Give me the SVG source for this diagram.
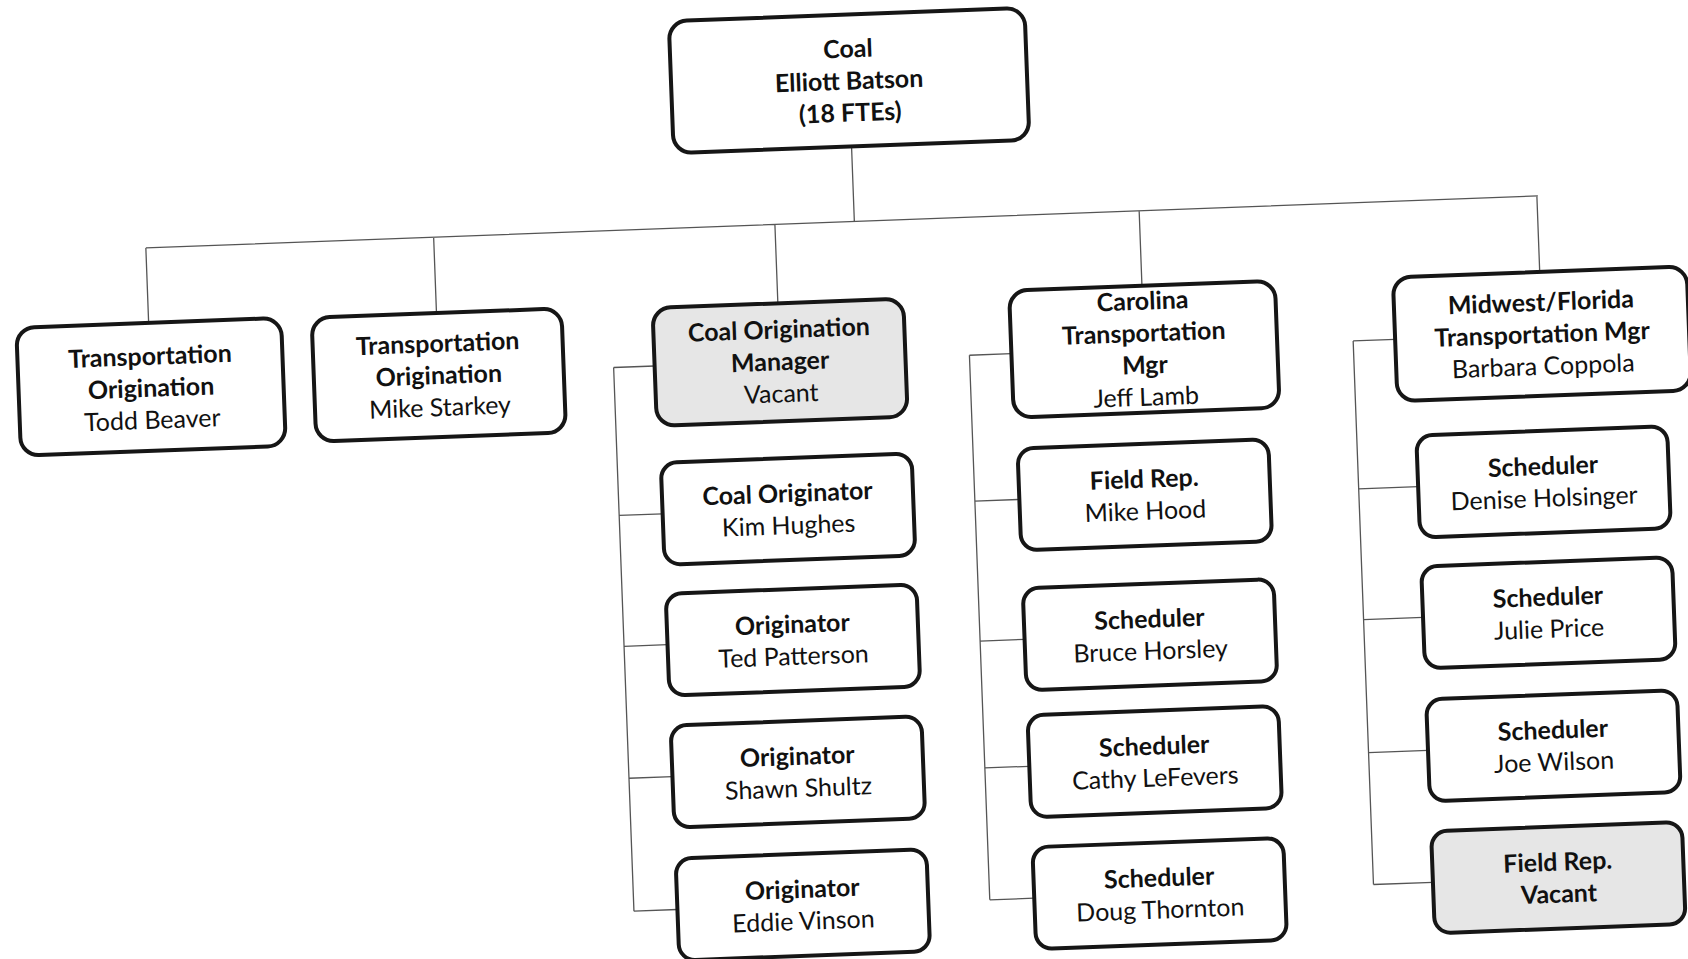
<svg xmlns="http://www.w3.org/2000/svg" width="1688" height="959" viewBox="0 0 1688 959">
<style>
.box{fill:#fff;stroke:#161616;stroke-width:4}
.vac{fill:#e6e6e6;stroke:#161616;stroke-width:4}
.t{font-family:Lato,"Liberation Sans",sans-serif;font-size:25px;text-anchor:middle;fill:#111}
.b{font-weight:bold}
.c{fill:none;stroke:#555;stroke-width:1.3}
</style>
<rect width="1688" height="959" fill="#fff"/>
<g transform="rotate(-2.14 844 480)">
<g id="connectors">
<path class="c" d="M864 146V222M155 222H1548M155 222V297M443 222V298M784.5 222V301M1149 222V297M1547 222V298"/>
<path class="c" d="M618 359V903M618 359H659M618 507H661.5M618 638H661.5M618 770H661.5M618 903H661.5"/>
<path class="c" d="M974 360V905M974 360H1016M974 506H1018.5M974 646H1018.5M974 773H1018.5M974 905H1018.5"/>
<path class="c" d="M1358 360V904M1358 360H1400M1358 508H1417.5M1358 639H1417.5M1358 772H1417.5M1358 904H1417.5"/>
</g>
<g id="n-coal"><rect class="box" x="686" y="15" width="356" height="132" rx="18"/>
<text class="t b" x="864" y="58">Coal</text><text class="t b" x="864" y="90">Elliott Batson</text><text class="t b" x="864" y="122">(18 FTEs)</text></g>
<g id="n-todd"><rect class="box" x="22.5" y="297" width="265" height="128" rx="18"/>
<text class="t b" x="155" y="339">Transportation</text><text class="t b" x="155" y="371">Origination</text><text class="t" x="155" y="403">Todd Beaver</text></g>
<g id="n-starkey"><rect class="box" x="318" y="298" width="250" height="124" rx="18"/>
<text class="t b" x="443" y="337">Transportation</text><text class="t b" x="443" y="369">Origination</text><text class="t" x="443" y="401">Mike Starkey</text></g>
<g id="n-mgr"><rect class="vac" x="659" y="301" width="251" height="118" rx="18"/>
<text class="t b" x="784.5" y="336">Coal Origination</text><text class="t b" x="784.5" y="368">Manager</text><text class="t" x="784.5" y="400">Vacant</text></g>
<g id="n-kim"><rect class="box" x="661.5" y="456" width="251" height="102" rx="16"/>
<text class="t b" x="787" y="500">Coal Originator</text><text class="t" x="787" y="532">Kim Hughes</text></g>
<g id="n-ted"><rect class="box" x="661.5" y="587" width="251" height="102" rx="16"/>
<text class="t b" x="787" y="631">Originator</text><text class="t" x="787" y="663">Ted Patterson</text></g>
<g id="n-shawn"><rect class="box" x="661.5" y="719" width="251" height="102" rx="16"/>
<text class="t b" x="787" y="763">Originator</text><text class="t" x="787" y="795">Shawn Shultz</text></g>
<g id="n-eddie"><rect class="box" x="661.5" y="852" width="251" height="102" rx="16"/>
<text class="t b" x="787" y="896">Originator</text><text class="t" x="787" y="928">Eddie Vinson</text></g>
<g id="n-carolina"><rect class="box" x="1016" y="297" width="266" height="127" rx="18"/>
<text class="t b" x="1149" y="321">Carolina</text><text class="t b" x="1149" y="353">Transportation</text><text class="t b" x="1149" y="385">Mgr</text><text class="t" x="1149" y="417">Jeff Lamb</text></g>
<g id="n-hood"><rect class="box" x="1018.5" y="455" width="251" height="102" rx="16"/>
<text class="t b" x="1144" y="499">Field Rep.</text><text class="t" x="1144" y="531">Mike Hood</text></g>
<g id="n-bruce"><rect class="box" x="1018.5" y="595" width="251" height="102" rx="16"/>
<text class="t b" x="1144" y="639">Scheduler</text><text class="t" x="1144" y="671">Bruce Horsley</text></g>
<g id="n-cathy"><rect class="box" x="1018.5" y="722" width="251" height="102" rx="16"/>
<text class="t b" x="1144" y="766">Scheduler</text><text class="t" x="1144" y="798">Cathy LeFevers</text></g>
<g id="n-doug"><rect class="box" x="1018.5" y="854" width="251" height="102" rx="16"/>
<text class="t b" x="1144" y="898">Scheduler</text><text class="t" x="1144" y="930">Doug Thornton</text></g>
<g id="n-midwest"><rect class="box" x="1400" y="298" width="294" height="124" rx="18"/>
<text class="t b" x="1547" y="337">Midwest/Florida</text><text class="t b" x="1547" y="369">Transportation Mgr</text><text class="t" x="1547" y="401">Barbara Coppola</text></g>
<g id="n-denise"><rect class="box" x="1417.5" y="457" width="251" height="102" rx="16"/>
<text class="t b" x="1543" y="501">Scheduler</text><text class="t" x="1543" y="533">Denise Holsinger</text></g>
<g id="n-julie"><rect class="box" x="1417.5" y="588" width="251" height="102" rx="16"/>
<text class="t b" x="1543" y="632">Scheduler</text><text class="t" x="1543" y="664">Julie Price</text></g>
<g id="n-joe"><rect class="box" x="1417.5" y="721" width="251" height="102" rx="16"/>
<text class="t b" x="1543" y="765">Scheduler</text><text class="t" x="1543" y="797">Joe Wilson</text></g>
<g id="n-fieldvac"><rect class="vac" x="1417.5" y="853" width="251" height="102" rx="16"/>
<text class="t b" x="1543" y="897">Field Rep.</text><text class="t b" x="1543" y="929">Vacant</text></g>
</g>
</svg>
